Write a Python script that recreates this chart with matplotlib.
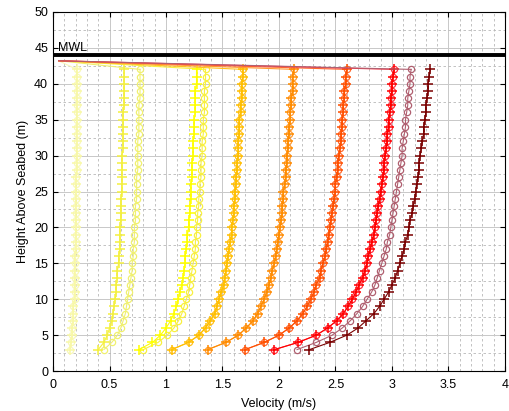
"""
Velocity profiles (height above seabed vs velocity) for a set of tidal stages.
"""

import matplotlib
matplotlib.use("Agg")

import matplotlib.pyplot as plt
from matplotlib.ticker import MultipleLocator, FormatStrFormatter

plt.rcParams["font.family"] = ["Liberation Sans", "DejaVu Sans"]

# bin heights above seabed (m)
heights = [3, 4, 5, 6, 7, 8, 9, 10, 11, 12, 13, 14, 15, 16, 17, 18, 19, 20, 21, 22,
           23, 24, 25, 26, 27, 28, 29, 30, 31, 32, 33, 34, 35, 36, 37, 38, 39, 40, 41, 42]

# measured velocity profiles (m/s), slowest to fastest
v1 = [0.15, 0.16, 0.17, 0.17, 0.18, 0.18, 0.18, 0.19, 0.19, 0.19, 0.19, 0.19, 0.19, 0.19,
      0.20, 0.20, 0.20, 0.20, 0.20, 0.20, 0.20, 0.20, 0.20, 0.20, 0.20, 0.21, 0.21, 0.21,
      0.21, 0.21, 0.21, 0.21, 0.21, 0.21, 0.21, 0.21, 0.21, 0.21, 0.21, 0.21]
v2 = [0.45, 0.52, 0.57, 0.60, 0.62, 0.64, 0.65, 0.66, 0.67, 0.68, 0.69, 0.70, 0.70, 0.71,
      0.71, 0.72, 0.72, 0.72, 0.73, 0.73, 0.73, 0.74, 0.74, 0.74, 0.74, 0.75, 0.75, 0.75,
      0.75, 0.75, 0.76, 0.76, 0.76, 0.76, 0.76, 0.77, 0.77, 0.77, 0.77, 0.77]
v3 = [0.80, 0.93, 1.01, 1.07, 1.11, 1.14, 1.16, 1.18, 1.20, 1.21, 1.22, 1.23, 1.24, 1.25,
      1.26, 1.26, 1.27, 1.27, 1.28, 1.28, 1.29, 1.29, 1.30, 1.30, 1.31, 1.31, 1.31, 1.32,
      1.32, 1.32, 1.33, 1.33, 1.33, 1.34, 1.34, 1.34, 1.34, 1.35, 1.35, 1.35]
v4 = [1.05, 1.20, 1.29, 1.35, 1.39, 1.43, 1.45, 1.47, 1.49, 1.51, 1.52, 1.53, 1.54, 1.55,
      1.56, 1.57, 1.58, 1.58, 1.59, 1.60, 1.60, 1.61, 1.61, 1.62, 1.62, 1.63, 1.63, 1.64,
      1.64, 1.64, 1.65, 1.65, 1.65, 1.66, 1.66, 1.67, 1.67, 1.67, 1.68, 1.68]
v5 = [1.37, 1.53, 1.64, 1.71, 1.77, 1.81, 1.84, 1.87, 1.89, 1.91, 1.93, 1.94, 1.96, 1.97,
      1.98, 1.99, 2.00, 2.01, 2.02, 2.03, 2.03, 2.04, 2.04, 2.05, 2.06, 2.06, 2.07, 2.07,
      2.08, 2.08, 2.09, 2.09, 2.10, 2.10, 2.11, 2.11, 2.12, 2.12, 2.12, 2.13]
v6 = [1.70, 1.87, 2.00, 2.09, 2.16, 2.21, 2.25, 2.28, 2.31, 2.33, 2.36, 2.37, 2.39, 2.41,
      2.42, 2.43, 2.44, 2.45, 2.46, 2.47, 2.48, 2.49, 2.50, 2.50, 2.51, 2.52, 2.52, 2.53,
      2.54, 2.55, 2.55, 2.56, 2.56, 2.57, 2.57, 2.58, 2.58, 2.59, 2.59, 2.60]
v7 = [1.96, 2.17, 2.33, 2.43, 2.51, 2.57, 2.61, 2.65, 2.68, 2.71, 2.74, 2.76, 2.78, 2.79,
      2.81, 2.82, 2.84, 2.85, 2.86, 2.87, 2.88, 2.89, 2.90, 2.91, 2.92, 2.93, 2.93, 2.94,
      2.95, 2.96, 2.96, 2.97, 2.97, 2.98, 2.99, 2.99, 3.00, 3.00, 3.01, 3.02]
v8 = [2.16, 2.33, 2.47, 2.56, 2.63, 2.69, 2.74, 2.78, 2.82, 2.85, 2.87, 2.89, 2.91, 2.93,
      2.95, 2.96, 2.98, 2.99, 3.00, 3.01, 3.02, 3.03, 3.04, 3.05, 3.06, 3.07, 3.08, 3.09,
      3.09, 3.10, 3.11, 3.12, 3.12, 3.13, 3.14, 3.14, 3.15, 3.16, 3.16, 3.17]

# modelled velocity profiles (m/s)
m1 = v1
m2 = [0.40, 0.45, 0.48, 0.50, 0.52, 0.53, 0.54, 0.55, 0.56, 0.56, 0.57, 0.57, 0.58, 0.58,
      0.59, 0.59, 0.59, 0.59, 0.60, 0.60, 0.60, 0.60, 0.61, 0.61, 0.61, 0.61, 0.61, 0.61,
      0.62, 0.62, 0.62, 0.62, 0.62, 0.62, 0.63, 0.63, 0.63, 0.63, 0.63, 0.63]
m3 = [0.76, 0.88, 0.95, 1.00, 1.04, 1.07, 1.09, 1.11, 1.12, 1.14, 1.15, 1.16, 1.17, 1.17,
      1.18, 1.19, 1.19, 1.20, 1.20, 1.21, 1.21, 1.22, 1.22, 1.22, 1.23, 1.23, 1.23, 1.24,
      1.24, 1.24, 1.25, 1.25, 1.25, 1.26, 1.26, 1.26, 1.26, 1.27, 1.27, 1.27]
m4 = v4
m5 = v5
m6 = v6
m7 = v7
m8 = [2.27, 2.45, 2.60, 2.70, 2.77, 2.84, 2.89, 2.93, 2.97, 3.00, 3.03, 3.05, 3.07, 3.09,
      3.11, 3.12, 3.14, 3.15, 3.16, 3.18, 3.19, 3.20, 3.21, 3.22, 3.23, 3.24, 3.24, 3.25,
      3.26, 3.27, 3.28, 3.28, 3.29, 3.30, 3.30, 3.31, 3.32, 3.32, 3.33, 3.34]

measured = [v1, v2, v3, v4, v5, v6, v7, v8]
modelled = [m1, m2, m3, m4, m5, m6, m7, m8]
colors = ["#f8f8a8", "#f4f040", "#ffff00", "#ffbf00", "#ff8c00", "#ff5000",
          "#ff0000", "#7a0000"]
meas_colors = ["#f8f8b8", "#f0f070", "#f8f040", "#ffc020", "#ff9a30", "#ff6a30",
               "#ff3040", "#b06070"]

mwl = 44.0
surface_z = 43.2
surface_v = 0.05

fig = plt.figure(figsize=(5.10, 4.11), dpi=100)
ax = fig.add_axes([0.104, 0.097, 0.886, 0.874])

for vm, vp, c, cm in zip(measured, modelled, colors, meas_colors):
    ax.plot([vm[-1], surface_v], [heights[-1], surface_z], "-", color=cm, lw=0.8)
    ax.plot(vm, heights, "-o", color=cm, lw=0.8, ms=4.5, mfc="none", mew=0.9)
    ax.plot(vp, heights, "-+", color=c, lw=0.8, ms=7, mew=1.1)

ax.axhline(mwl, color="black", lw=2.8)
ax.text(0.04, mwl + 0.2, "MWL", fontsize=9, ha="left", va="bottom")

ax.set_xlim(0, 4)
ax.set_ylim(0, 50)
ax.xaxis.set_major_locator(MultipleLocator(0.5))
ax.xaxis.set_minor_locator(MultipleLocator(0.1))
ax.xaxis.set_major_formatter(FormatStrFormatter("%g"))
ax.yaxis.set_major_locator(MultipleLocator(5))
ax.yaxis.set_minor_locator(MultipleLocator(2.5))
ax.tick_params(which="both", direction="in", top=True, right=True, labelsize=9)
ax.tick_params(axis="x", pad=6)
ax.tick_params(which="minor", length=0)
ax.grid(True, which="major", color="#c8c8c8", lw=0.7, ls="-")
ax.grid(True, which="minor", color="#b8b8b8", lw=0.6, ls=(0, (3, 3)))
ax.set_axisbelow(True)

ax.set_xlabel("Velocity (m/s)", fontsize=9, labelpad=5)
ax.set_ylabel("Height Above Seabed (m)", fontsize=9, labelpad=4)

fig.savefig("out.png", dpi=100)
plt.close(fig)
